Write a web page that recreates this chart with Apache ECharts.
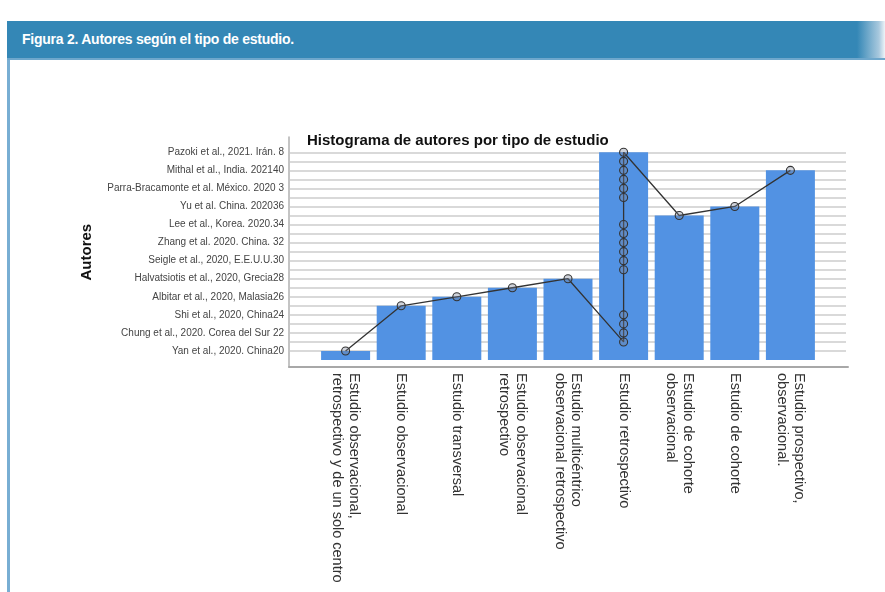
<!DOCTYPE html>
<html>
<head>
<meta charset="utf-8">
<script src="https://cdn.jsdelivr.net/npm/echarts@6/dist/echarts.min.js"></script>
<style>
  html, body { margin: 0; padding: 0; background: #ffffff; }
  #frame { position: relative; width: 885px; height: 592px; overflow: hidden; font-family: "Liberation Sans", Arial, sans-serif; }
  #header { position: absolute; left: 7px; top: 21px; width: 878px; height: 37px;
            background: linear-gradient(to right, #3487b6 0px, #3487b6 850px, #a9c9de 872px, #eef4f8 878px);
            border-bottom: 2px solid #6ea7cc; }
  #header span { position: absolute; left: 15px; top: 10px; color: #ffffff; font-weight: bold; font-size: 14px; letter-spacing: -0.25px; }
  #leftborder { position: absolute; left: 7px; top: 60px; width: 3px; height: 532px; background: #78aed3; }
  #chart { position: absolute; left: 0; top: 0; width: 885px; height: 592px; }
</style>
</head>
<body>
<div id="frame">
  <div id="header"><span>Figura 2. Autores según el tipo de estudio.</span></div>
  <div id="leftborder"></div>
  <div id="chart"></div>
</div>
<script>
// Study types (x categories)
var categories = [
  "Estudio observacional,\nretrospectivo y de un solo centro",
  "Estudio observacional",
  "Estudio transversal",
  "Estudio observacional\nretrospectivo",
  "Estudio multicéntrico\nobservacional retrospectivo",
  "Estudio retrospectivo",
  "Estudio de cohorte\nobservacional",
  "Estudio de cohorte",
  "Estudio prospectivo,\nobservacional."
];
// Author tick labels, bottom to top (placed on odd levels 1,3,...,23)
var authorLabels = [
  "Yan et al., 2020. China20",
  "Chung et al., 2020. Corea del Sur 22",
  "Shi et al., 2020, China24",
  "Albitar et al., 2020, Malasia26",
  "Halvatsiotis et al., 2020, Grecia28",
  "Seigle et al., 2020, E.E.U.U.30",
  "Zhang et al. 2020. China. 32",
  "Lee et al., Korea. 2020.34",
  "Yu et al. China. 202036",
  "Parra-Bracamonte et al. México. 2020 3",
  "Mithal et al., India. 202140",
  "Pazoki et al., 2021. Irán. 8"
];
// Bar heights (levels) per study type
var barValues = [1, 6, 7, 8, 9, 23, 16, 17, 21];
// Line points: study index and level
var lineX = [0, 1, 2, 3, 4, 5, 5, 5, 5, 5, 5, 5, 5, 5, 5, 5, 5, 5, 5, 5, 5, 6, 7, 8];
var lineY = [1, 6, 7, 8, 9, 2, 3, 4, 5, 10, 11, 12, 13, 14, 15, 18, 19, 20, 21, 22, 23, 16, 17, 21];

var barData = barValues.map(function (v, i) { return [i, v]; });
var lineData = lineX.map(function (x, i) { return [x, lineY[i]]; });

var FONT = '"Liberation Sans", Arial, Helvetica, sans-serif';
var chart = echarts.init(document.getElementById('chart'), null, { renderer: 'canvas' });
chart.setOption({
  animation: false,
  backgroundColor: 'transparent',
  textStyle: { fontFamily: FONT },
  title: {
    text: 'Histograma de autores por tipo de estudio',
    left: 307, top: 133.5, padding: 0,
    textStyle: { fontSize: 15, fontWeight: 'bold', color: '#111111', fontFamily: FONT }
  },
  grid: [
    { left: 290, right: 39, top: 152.3, bottom: 232 },
    { left: 289, right: 37, top: 137, bottom: 225 }
  ],
  xAxis: [
    {
      gridIndex: 0, type: 'value', min: -1, max: 9, interval: 1,
      axisLine: { show: false }, axisTick: { show: false }, splitLine: { show: false },
      axisLabel: {
        rotate: -90, margin: 13, fontSize: 14.5, lineHeight: 16.7, color: '#333333', fontFamily: FONT,
        showMinLabel: false, showMaxLabel: false,
        formatter: function (v) { return categories[v] !== undefined ? categories[v] : ''; }
      }
    },
    {
      gridIndex: 1, type: 'value', min: 0, max: 1,
      axisLine: { show: true, onZero: false, lineStyle: { color: '#a8a8a8', width: 2 } },
      axisTick: { show: false }, axisLabel: { show: false }, splitLine: { show: false }
    }
  ],
  yAxis: [
    {
      gridIndex: 0, type: 'value', min: 0, max: 23, interval: 1,
      name: 'Autores', nameLocation: 'middle', nameRotate: 90, nameGap: 196,
      nameTextStyle: { fontSize: 15, fontWeight: 'bold', color: '#111111', fontFamily: FONT, padding: [0, 0, 0, 8] },
      axisLine: { show: false }, axisTick: { show: false },
      splitLine: { show: true, showMinLine: false, lineStyle: { color: '#cdcdcd', width: 1.5 } },
      axisLabel: {
        margin: 6, fontSize: 10, color: '#444444', fontFamily: 'Liberation Sans',
        formatter: function (v) {
          if (v % 2 === 1) { var k = (v - 1) / 2; return authorLabels[k] || ''; }
          return '';
        }
      }
    },
    {
      gridIndex: 1, type: 'value', min: 0, max: 1,
      axisLine: { show: true, onZero: false, lineStyle: { color: '#b0b0b0', width: 1.5 } },
      axisTick: { show: false }, axisLabel: { show: false }, splitLine: { show: false }
    }
  ],
  series: [
    {
      type: 'bar', xAxisIndex: 0, yAxisIndex: 0,
      data: barData, barWidth: 49,
      itemStyle: { color: '#5292e3' }
    },
    {
      type: 'line', xAxisIndex: 0, yAxisIndex: 0,
      data: lineData, symbol: 'circle', symbolSize: 8, showSymbol: true,
      lineStyle: { color: '#333333', width: 1.3 },
      itemStyle: { color: 'rgba(120,130,150,0.35)', borderColor: '#333333', borderWidth: 1.1 }
    }
  ]
});
</script>
</body>
</html>
